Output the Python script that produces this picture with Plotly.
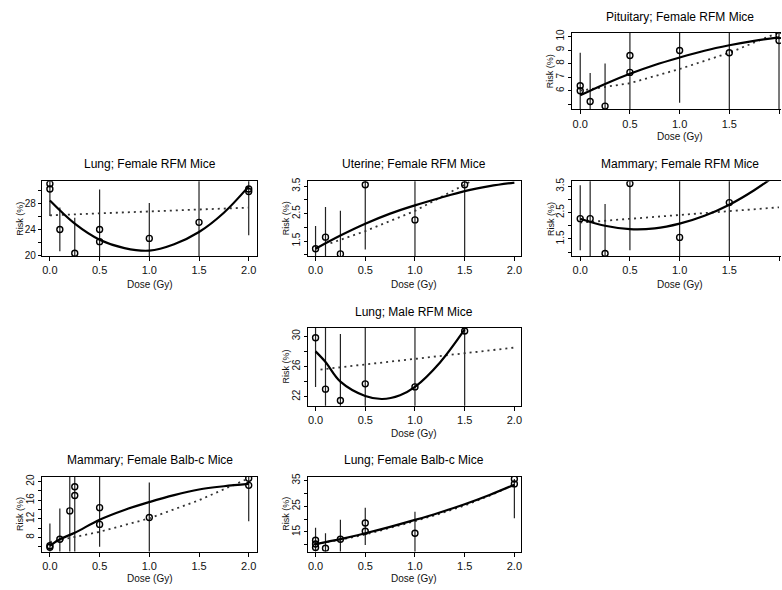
import plotly.graph_objects as go

# ---------------- data ----------------
dose_ticks = [0, 0.5, 1.0, 1.5, 2.0]
dose_labels = ["0.0", "0.5", "1.0", "1.5", "2.0"]

# Pituitary; Female RFM Mice
pit_dose = [0, 0, 0.1, 0.25, 0.5, 0.5, 1.0, 1.5, 2.0, 2.0]
pit_risk = [6.36, 6.0, 5.2, 4.86, 8.6, 7.35, 8.97, 8.8, 10.07, 9.7]
pit_bar_dose = [0, 0.1, 0.25, 0.5, 1.0, 1.5, 2.0]
pit_bar_lo = [4.0, 4.0, 4.0, 4.0, 5.1, 4.0, 4.0]
pit_bar_hi = [8.8, 7.3, 8.0, 11, 11, 11, 11]
pit_fit_dose = [0, 0.25, 0.5, 0.75, 1.0, 1.25, 1.5, 1.75, 2.0]
pit_fit = [5.66, 6.5, 7.25, 7.9, 8.45, 8.95, 9.35, 9.68, 9.93]
pit_lin_dose = [0, 0.5, 1.0, 1.5, 2.0]
pit_lin = [6.0, 6.55, 7.6, 8.8, 10.3]

# Lung; Female RFM Mice
lf_dose = [0, 0, 0.1, 0.25, 0.5, 0.5, 1.0, 1.5, 2.0, 2.0]
lf_risk = [31.1, 30.3, 24.0, 20.3, 24.0, 22.1, 22.6, 25.1, 30.3, 29.9]
lf_bar_dose = [0, 0.1, 0.25, 0.5, 1.0, 1.5, 2.0]
lf_bar_lo = [26.1, 20.6, 19, 19, 19, 19, 23.1]
lf_bar_hi = [33, 27.4, 25.8, 30.2, 28.1, 33, 33]
lf_fit_dose = [0, 0.25, 0.5, 0.75, 1.0, 1.25, 1.5, 1.75, 2.0]
lf_fit = [28.5, 24.9, 22.4, 21.1, 20.7, 21.7, 23.6, 26.6, 30.7]
lf_lin_dose = [0, 2.0]
lf_lin = [26.2, 27.4]

# Uterine; Female RFM Mice
ut_dose = [0, 0.1, 0.25, 0.5, 1.0, 1.5]
ut_risk = [1.22, 1.64, 1.03, 3.55, 2.27, 3.55]
ut_bar_dose = [0, 0.1, 0.25, 0.5, 1.0, 1.5]
ut_bar_lo = [0.5, 0.5, 0.5, 1.19, 0.5, 0.5]
ut_bar_hi = [2.05, 2.74, 2.6, 4, 4, 4]
ut_fit_dose = [0, 0.25, 0.5, 0.75, 1.0, 1.25, 1.5, 1.75, 2.0]
ut_fit = [1.22, 1.7, 2.13, 2.5, 2.8, 3.07, 3.32, 3.5, 3.63]
ut_lin_dose = [0.15, 0.5, 1.0, 1.5, 1.6]
ut_lin = [1.42, 1.86, 2.6, 3.55, 3.75]

# Mammary; Female RFM Mice
mr_dose = [0, 0.1, 0.25, 0.5, 1.0, 1.5]
mr_risk = [2.27, 2.27, 0.95, 3.6, 1.56, 2.88]
mr_bar_dose = [0, 0.1, 0.25, 0.5, 1.0, 1.5]
mr_bar_lo = [1.07, 0.5, 0.5, 1.07, 0.5, 0.5]
mr_bar_hi = [3.54, 4.5, 2.83, 4.5, 4.5, 4.5]
mr_fit_dose = [0, 0.25, 0.5, 0.75, 1.0, 1.25, 1.5, 1.75, 2.0]
mr_fit = [2.27, 2.0, 1.87, 1.9, 2.08, 2.38, 2.8, 3.35, 4.0]
mr_lin_dose = [0, 2.0]
mr_lin = [2.12, 2.7]

# Lung; Male RFM Mice
lm_dose = [0, 0.1, 0.25, 0.5, 1.0, 1.5]
lm_risk = [29.8, 23.0, 21.5, 23.7, 23.3, 30.7]
lm_bar_dose = [0, 0.1, 0.25, 0.5, 1.0, 1.5]
lm_bar_lo = [23.3, 20, 20, 20, 20, 20]
lm_bar_hi = [33, 33, 30.3, 33, 33, 33]
lm_fit_dose = [0, 0.1, 0.25, 0.5, 0.67, 0.85, 1.0, 1.25, 1.5]
lm_fit = [28.0, 26.6, 24.0, 22.1, 21.7, 22.2, 23.3, 26.5, 30.9]
lm_lin_dose = [0.05, 2.0]
lm_lin = [25.6, 28.5]

# Mammary; Female Balb-c Mice
mb_dose = [0, 0, 0.1, 0.2, 0.25, 0.25, 0.5, 0.5, 1.0, 2.0, 2.0]
mb_risk = [6.2, 5.9, 7.6, 13.7, 18.9, 17.0, 14.4, 10.8, 12.3, 20.7, 19.2]
mb_bar_dose = [0, 0.1, 0.2, 0.25, 0.5, 1.0, 2.0]
mb_bar_lo = [4, 4, 4, 4, 6.0, 4, 11.5]
mb_bar_hi = [11.0, 14.2, 22, 22, 22, 19.8, 22]
mb_fit_dose = [0, 0.1, 0.25, 0.5, 0.75, 1.0, 1.25, 1.5, 1.75, 2.0]
mb_fit = [6.2, 7.6, 9.0, 11.8, 13.9, 15.6, 17.1, 18.3, 19.0, 19.5]
mb_lin_dose = [0, 0.5, 1.0, 1.5, 2.0]
mb_lin = [7.0, 9.2, 12.1, 16.0, 20.7]

# Lung; Female Balb-c Mice
lb_dose = [0, 0, 0, 0.1, 0.25, 0.5, 0.5, 1.0, 2.0, 2.0]
lb_risk = [11.8, 10.3, 9.0, 8.7, 12.2, 18.5, 15.3, 14.5, 35.6, 33.7]
lb_bar_dose = [0, 0.1, 0.25, 0.5, 1.0, 2.0]
lb_bar_lo = [5, 5, 7, 9.9, 5, 20.3]
lb_bar_hi = [16.6, 14.5, 19.8, 24.4, 22.9, 35.6]
lb_fit_dose = [0, 0.25, 0.5, 0.75, 1.0, 1.25, 1.5, 1.75, 2.0]
lb_fit = [10.3, 12.2, 14.5, 17.0, 19.7, 22.6, 25.8, 29.4, 33.4]
lb_lin_dose = [0, 0.25, 0.5, 0.75, 1.0, 1.25, 1.5, 1.75, 2.0]
lb_lin = [10.3, 12.0, 14.0, 16.5, 19.2, 22.1, 25.3, 29.1, 33.4]

# ---------------- layout helpers ----------------
W, H = 782, 590
FONT = "Liberation Sans, Arial, sans-serif"

# (box left px, box right px, x range, text centre px)
cols = {"L": (42, 257, [-0.08, 2.08], 150),
        "M": (308, 522, [-0.08, 2.07], 415),
        "R": (573, 782, [-0.08, 2.02], 681)}
# (box top px, box bottom px, title centre px, dose-label centre px)
rows = {1: (29, 107, 13, 135), 2: (180, 256, 162, 285), 3: (329, 408, 313, 436), 4: (480, 556, 463, 583)}

panels = [
    dict(title="Pituitary; Female RFM Mice", col="R", row=1, yr=[4.62, 10.29],
         yt=[6, 7, 8, 9, 10], ym=[5], ang=-90,
         d=pit_dose, r=pit_risk, bd=pit_bar_dose, blo=pit_bar_lo, bhi=pit_bar_hi,
         fd=pit_fit_dose, f=pit_fit, ld=pit_lin_dose, l=pit_lin),
    dict(title="Lung; Female RFM Mice", col="L", row=2, yr=[19.85, 31.5],
         yt=[20, 24, 28], ym=[22, 26, 30], ang=0,
         d=lf_dose, r=lf_risk, bd=lf_bar_dose, blo=lf_bar_lo, bhi=lf_bar_hi,
         fd=lf_fit_dose, f=lf_fit, ld=lf_lin_dose, l=lf_lin),
    dict(title="Uterine; Female RFM Mice", col="M", row=2, yr=[0.95, 3.68],
         yt=[1.5, 2.5, 3.5], ym=[1.0, 2.0, 3.0], ang=-90,
         d=ut_dose, r=ut_risk, bd=ut_bar_dose, blo=ut_bar_lo, bhi=ut_bar_hi,
         fd=ut_fit_dose, f=ut_fit, ld=ut_lin_dose, l=ut_lin),
    dict(title="Mammary; Female RFM Mice", col="R", row=2, yr=[0.85, 3.69],
         yt=[1.5, 2.5, 3.5], ym=[1.0, 2.0, 3.0], ang=-90,
         d=mr_dose, r=mr_risk, bd=mr_bar_dose, blo=mr_bar_lo, bhi=mr_bar_hi,
         fd=mr_fit_dose, f=mr_fit, ld=mr_lin_dose, l=mr_lin),
    dict(title="Lung; Male RFM Mice", col="M", row=3, yr=[20.8, 31.1],
         yt=[22, 26, 30], ym=[24, 28], ang=-90,
         d=lm_dose, r=lm_risk, bd=lm_bar_dose, blo=lm_bar_lo, bhi=lm_bar_hi,
         fd=lm_fit_dose, f=lm_fit, ld=lm_lin_dose, l=lm_lin),
    dict(title="Mammary; Female Balb-c Mice", col="L", row=4, yr=[4.97, 21.06],
         yt=[8, 12, 16, 20], ym=[6, 10, 14, 18], ang=-90,
         d=mb_dose, r=mb_risk, bd=mb_bar_dose, blo=mb_bar_lo, bhi=mb_bar_hi,
         fd=mb_fit_dose, f=mb_fit, ld=mb_lin_dose, l=mb_lin),
    dict(title="Lung; Female Balb-c Mice", col="M", row=4, yr=[7.4, 36.5],
         yt=[15, 25, 35], ym=[10, 20, 30], ang=-90,
         d=lb_dose, r=lb_risk, bd=lb_bar_dose, blo=lb_bar_lo, bhi=lb_bar_hi,
         fd=lb_fit_dose, f=lb_fit, ld=lb_lin_dose, l=lb_lin),
]

fig = go.Figure()
annotations = []
layout = dict(width=W, height=H, margin=dict(l=0, r=0, t=0, b=0),
              paper_bgcolor="white", plot_bgcolor="white", showlegend=False,
              font=dict(family=FONT, color="black"))

for i, p in enumerate(panels, start=1):
    x0, x1, xr, cx_px = cols[p["col"]]
    top, bot, ty, dy = rows[p["row"]]
    xs = "" if i == 1 else str(i)
    xa, ya = "x" + xs, "y" + xs
    xdom = [x0 / W, min(x1 / W, 1.0)]
    ydom = [1 - bot / H, 1 - top / H]
    right_col = p["col"] == "R"

    layout["xaxis" + xs] = dict(
        domain=xdom, range=xr, anchor=ya, showgrid=False, zeroline=False,
        showline=True, mirror=True, linecolor="black", linewidth=1,
        ticks="outside", ticklen=4, tickcolor="black",
        tickvals=dose_ticks, ticktext=dose_labels,
        tickfont=dict(size=11, family=FONT, color="#111"))
    layout["yaxis" + xs] = dict(
        domain=ydom, range=p["yr"], anchor=xa, showgrid=False, zeroline=False,
        showline=True, mirror=(not right_col), linecolor="black", linewidth=1,
        ticks="outside", ticklen=3, tickcolor="black",
        tickvals=p["yt"], tickangle=p["ang"],
        tickfont=dict(size=10, family=FONT, color="#111"),
        minor=dict(tickvals=p["ym"], ticks="outside", ticklen=3, tickcolor="black", showgrid=False))

    cx = cx_px / W
    annotations.append(dict(text=p["title"], x=cx, y=1 - ty / H, xref="paper", yref="paper",
                            showarrow=False, xanchor="center", yanchor="middle",
                            font=dict(size=12, family=FONT, color="black")))
    annotations.append(dict(text="Dose (Gy)", x=cx, y=1 - dy / H, xref="paper", yref="paper",
                            showarrow=False, xanchor="center", yanchor="middle",
                            font=dict(size=10, family=FONT, color="#111")))
    annotations.append(dict(text="Risk (%)", x=(x0 - 22) / W, y=1 - (top + bot) / 2 / H,
                            xref="paper", yref="paper", textangle=-90,
                            showarrow=False, xanchor="center", yanchor="middle",
                            font=dict(size=9, family=FONT, color="#111")))

    # error bars (vertical segments)
    bx, by = [], []
    for d, lo, hi in zip(p["bd"], p["blo"], p["bhi"]):
        bx += [d, d, None]
        by += [lo, hi, None]
    fig.add_trace(go.Scatter(x=bx, y=by, mode="lines", xaxis=xa, yaxis=ya,
                             line=dict(color="#222", width=1.2), hoverinfo="skip"))
    # linear (dotted) fit
    fig.add_trace(go.Scatter(x=p["ld"], y=p["l"], mode="lines", xaxis=xa, yaxis=ya,
                             line=dict(color="#333", width=1.8, dash="2px,4px")))
    # nonlinear (solid) fit
    fig.add_trace(go.Scatter(x=p["fd"], y=p["f"], mode="lines", xaxis=xa, yaxis=ya,
                             line=dict(color="black", width=2.2, shape="spline", smoothing=1.0)))
    # observations
    fig.add_trace(go.Scatter(x=p["d"], y=p["r"], mode="markers", xaxis=xa, yaxis=ya,
                             marker=dict(symbol="circle-open", size=6, color="black",
                                         line=dict(width=1.4, color="black"))))

layout["annotations"] = annotations
fig.update_layout(**layout)
fig.write_html("out.html", config={"displayModeBar": False},
               post_script="document.body.style.margin='0';document.body.style.overflow='hidden';")
